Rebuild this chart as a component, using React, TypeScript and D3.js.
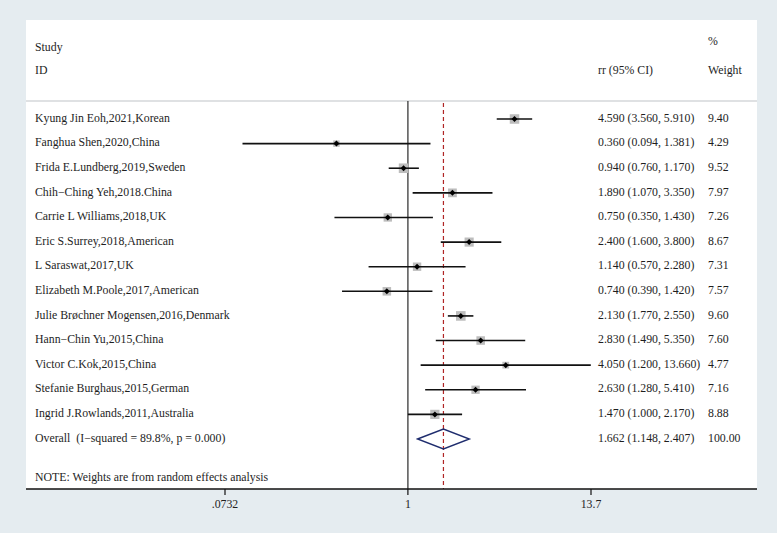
import React from "react";
import * as d3 from "d3";

const studies = [
  "Kyung Jin Eoh,2021,Korean",
  "Fanghua Shen,2020,China",
  "Frida E.Lundberg,2019,Sweden",
  "Chih\u2212Ching Yeh,2018.China",
  "Carrie L Williams,2018,UK",
  "Eric S.Surrey,2018,American",
  "L Saraswat,2017,UK",
  "Elizabeth M.Poole,2017,American",
  "Julie Br\u00f8chner Mogensen,2016,Denmark",
  "Hann\u2212Chin Yu,2015,China",
  "Victor C.Kok,2015,China",
  "Stefanie Burghaus,2015,German",
  "Ingrid J.Rowlands,2011,Australia",
];
const rr = [4.59, 0.36, 0.94, 1.89, 0.75, 2.4, 1.14, 0.74, 2.13, 2.83, 4.05, 2.63, 1.47];
const lo = [3.56, 0.094, 0.76, 1.07, 0.35, 1.6, 0.57, 0.39, 1.77, 1.49, 1.2, 1.28, 1.0];
const hi = [5.91, 1.381, 1.17, 3.35, 1.43, 3.8, 2.28, 1.42, 2.55, 5.35, 13.66, 5.41, 2.17];
const weights = [9.4, 4.29, 9.52, 7.97, 7.26, 8.67, 7.31, 7.57, 9.6, 7.6, 4.77, 7.16, 8.88];
const overall = { rr: 1.662, lo: 1.148, hi: 2.407, weight: 100 };
const overallLabel = "Overall  (I\u2212squared = 89.8%, p = 0.000)";
const noteLabel = "NOTE: Weights are from random effects analysis";
const tickValues = [0.0732, 1, 13.7];
const tickLabels = [".0732", "1", "13.7"];

const fmt = (v: number) => v.toFixed(3);

export default function App() {
  const W = 777;
  const H = 533;
  const x = d3.scaleLog().domain([0.0732, 13.7]).range([225, 591]);
  const rowY = d3.scaleLinear().domain([0, 13]).range([119, 439]);
  const boxSide = d3.scaleSqrt().domain([0, 10]).range([0, 9.8]);
  const font = "'Liberation Serif', 'Times New Roman', serif";
  const fs = 11.8;
  const panelTop = 20;
  const axisY = 489;
  const headerLineY = 101;
  const oy = rowY(13);
  const tc = "#1e1e1e";

  return (
    <svg
      width={W}
      height={H}
      style={{ position: "absolute", left: 0, top: 0, whiteSpace: "pre" }}
      fontFamily={font}
      fontSize={fs}
    >
      <rect x={0} y={0} width={W} height={H} fill="#e5ecf0" />
      <rect x={26} y={panelTop} width={731} height={axisY - panelTop} fill="#ffffff" />
      {/* headers */}
      <text x={35} y={48} dominantBaseline="middle" fill={tc}>Study</text>
      <text x={35} y={71} dominantBaseline="middle" fill={tc}>ID</text>
      <text x={598} y={71} dominantBaseline="middle" fill={tc}>rr (95% CI)</text>
      <text x={708} y={42} dominantBaseline="middle" fill={tc}>%</text>
      <text x={708} y={71} dominantBaseline="middle" fill={tc}>Weight</text>
      <line x1={26} x2={757} y1={headerLineY} y2={headerLineY} stroke="#c0c4c8" strokeWidth={1.2} />

      {/* null line */}
      <line x1={x(1)} x2={x(1)} y1={headerLineY} y2={axisY} stroke="#3a3a3a" strokeWidth={1.3} />
      {/* overall dashed line */}
      <line
        x1={x(overall.rr)}
        x2={x(overall.rr)}
        y1={headerLineY + 2}
        y2={axisY}
        stroke="#b02525"
        strokeWidth={1.2}
        strokeDasharray="4,3"
      />

      {studies.map((s, i) => {
        const y = rowY(i);
        const side = boxSide(weights[i]);
        const cx = x(rr[i]);
        return (
          <g key={s}>
            <text x={35} y={y} dominantBaseline="middle" fill={tc}>{s}</text>
            <rect x={cx - side / 2} y={y - side / 2} width={side} height={side} fill="#bdbdbd" />
            <line x1={x(lo[i])} x2={x(hi[i])} y1={y} y2={y} stroke="#111" strokeWidth={1.6} />
            <path
              d={`M${cx - 3},${y} L${cx},${y - 3} L${cx + 3},${y} L${cx},${y + 3} Z`}
              fill="#000"
            />
            <text x={598} y={y} dominantBaseline="middle" fill={tc}>
              {`${fmt(rr[i])} (${fmt(lo[i])}, ${fmt(hi[i])})`}
            </text>
            <text x={708} y={y} dominantBaseline="middle" fill={tc}>{weights[i].toFixed(2)}</text>
          </g>
        );
      })}

      {/* overall */}
      <text x={35} y={oy} dominantBaseline="middle" fill={tc} xmlSpace="preserve">{overallLabel}</text>
      <path
        d={`M${x(overall.lo)},${oy} L${x(overall.rr)},${oy - 10} L${x(overall.hi)},${oy} L${x(overall.rr)},${oy + 10} Z`}
        fill="none"
        stroke="#1f2d6e"
        strokeWidth={1.4}
      />
      <text x={598} y={oy} dominantBaseline="middle" fill={tc}>
        {`${fmt(overall.rr)} (${fmt(overall.lo)}, ${fmt(overall.hi)})`}
      </text>
      <text x={708} y={oy} dominantBaseline="middle" fill={tc}>{overall.weight.toFixed(2)}</text>

      <text x={35} y={478} dominantBaseline="middle" fill={tc}>{noteLabel}</text>

      {/* axis */}
      <line x1={26} x2={757} y1={axisY} y2={axisY} stroke="#111" strokeWidth={1.3} />
      {tickValues.map((t, i) => (
        <g key={t}>
          <line x1={x(t)} x2={x(t)} y1={axisY} y2={axisY + 6} stroke="#111" strokeWidth={1.2} />
          <text x={x(t)} y={axisY + 16} textAnchor="middle" dominantBaseline="middle" fill={tc}>
            {tickLabels[i]}
          </text>
        </g>
      ))}
    </svg>
  );
}
